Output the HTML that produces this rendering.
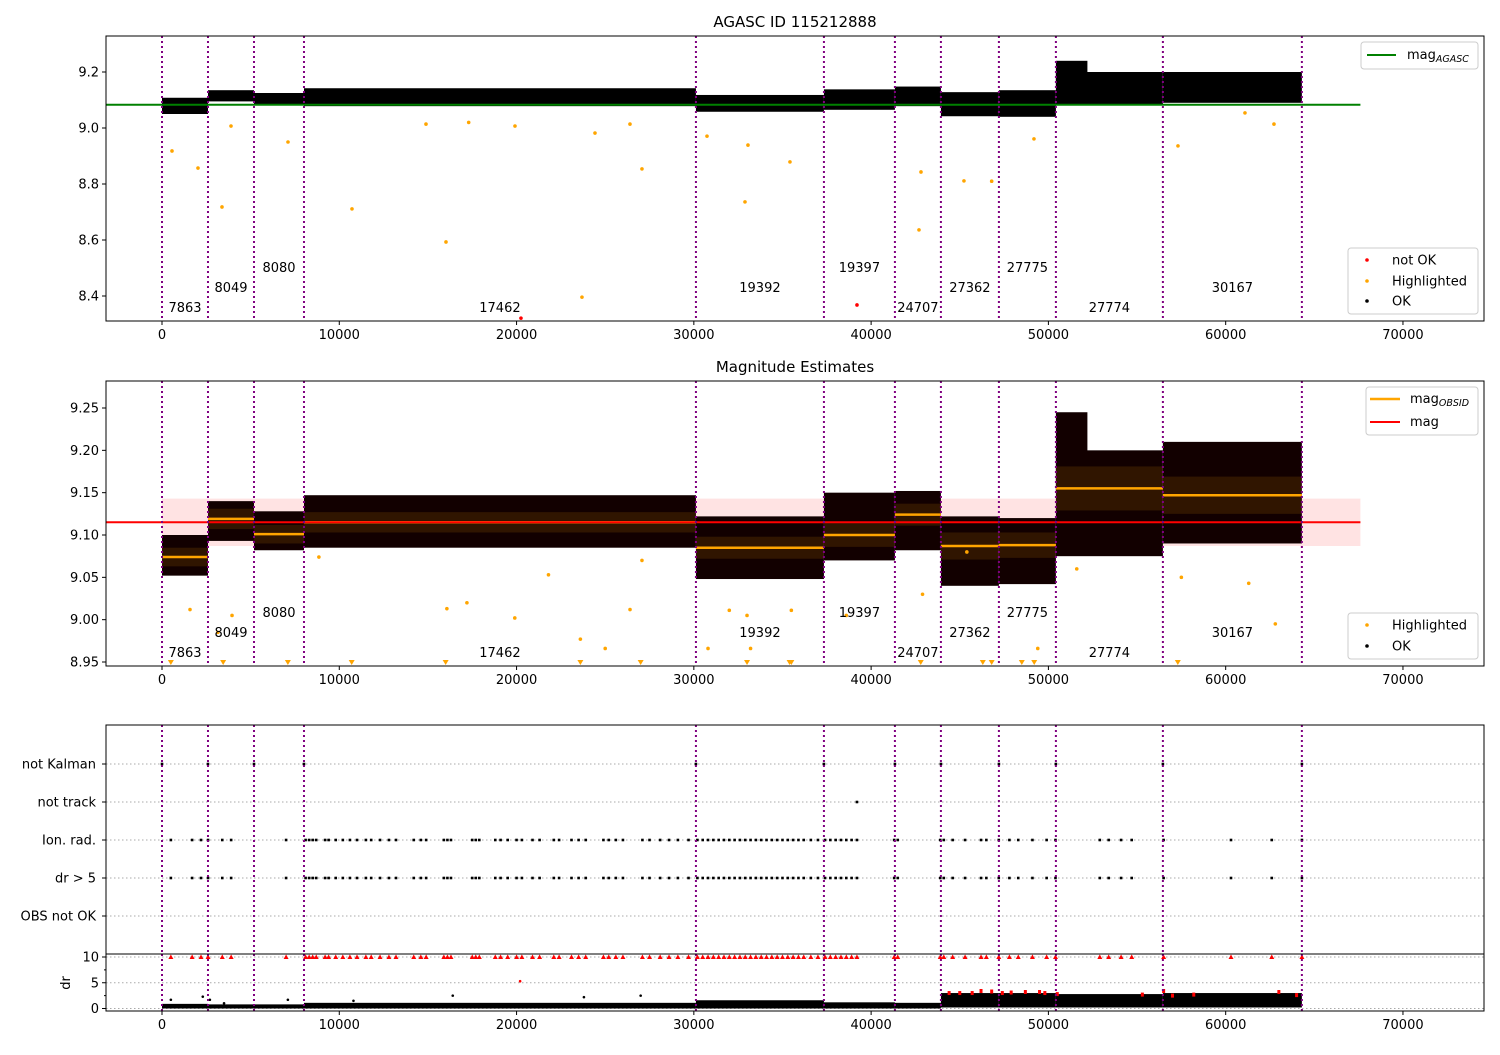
<!DOCTYPE html>
<html><head><meta charset="utf-8">
<style>
body{margin:0;background:#fff;}
svg{font-family:"DejaVu Sans","Liberation Sans",sans-serif;}
</style></head>
<body>
<svg id="chart" width="1500" height="1050" viewBox="0 0 1500 1050" xmlns="http://www.w3.org/2000/svg">
<rect width="1500" height="1050" fill="#fff"/>
<g id="layer"></g>
</svg>
<script>
// ---- data ----
const segStarts = [0,2594,5189,8009,30118,37338,41342,43937,47208,50423,56458];
const segEnds   = [2594,5189,8009,30118,37338,41342,43937,47208,50423,56458,64298];
const obsids = ["7863","8049","8080","17462","19392","19397","24707","27362","27775","27774","30167"];
const p1Low  = [9.050,9.095,9.082,9.078,9.058,9.065,9.078,9.042,9.040,9.085,9.090];
const p1High = [9.108,9.135,9.125,9.142,9.118,9.138,9.148,9.128,9.135,9.200,9.200];
const p2Low  = [9.052,9.093,9.082,9.085,9.048,9.070,9.082,9.040,9.042,9.075,9.090];
const p2High = [9.100,9.140,9.128,9.147,9.122,9.150,9.152,9.122,9.120,9.200,9.210];
const p2Mean = [9.074,9.119,9.101,9.115,9.085,9.100,9.124,9.087,9.088,9.155,9.147];
const p2Std  = [0.011,0.012,0.011,0.012,0.013,0.014,0.013,0.016,0.015,0.026,0.022];
const peakStart = 50423, peakEnd = 52200, peakLow = 9.15, peakHighP1 = 9.24, peakHighP2 = 9.245;
const magAgasc = 9.083;
const magMean = 9.115, magLo = 9.087, magHi = 9.143;
const p1HiT = [564,2030,3384,3892,7107,10717,16019,19911,23690,27074,24424,26398,32885,35422,33054,42813,42700,45237,49186,57309,62724,61088,30742,14891,17300,46800];
const p1HiV = [8.918,8.857,8.718,9.007,8.95,8.711,8.593,9.007,8.396,8.854,8.982,9.014,8.736,8.879,8.939,8.843,8.636,8.811,8.961,8.936,9.014,9.054,8.971,9.014,9.02,8.81];
const p1BadT = [39203,20249];
const p1BadV = [8.368,8.321];
const p2HiT = [1580,3150,3950,8850,16070,17200,19900,21800,23600,25000,26400,27074,30800,32000,33000,35500,33200,42900,45400,49400,57500,62800,61300,51600,38600];
const p2HiV = [9.012,8.985,9.005,9.074,9.013,9.020,9.002,9.053,8.977,8.966,9.012,9.070,8.966,9.011,9.005,9.011,8.966,9.030,9.080,8.966,9.050,8.995,9.043,9.060,9.005];
const p2TriT = [500,3450,7100,10700,16000,23600,27000,33000,35400,35500,42800,46800,57300,49200,48500,46300];
const rowLabels = ["not Kalman","not track","Ion. rad.","dr > 5","OBS not OK"];
const notKalmanT = [0,2594,5189,8009,30118,37338,41342,43937,47208,50423,56458,64298];
const notTrackT = [39200];
const ionT = [500,1700,2200,2600,3400,3900,7000,8100,8300,8500,8700,9200,9400,9800,10200,10600,11000,11500,11800,12300,12800,13200,14200,14600,14900,15900,16100,16300,17500,17700,17900,18800,19100,19500,20000,20300,20900,21300,22100,22400,23100,23500,23900,24900,25200,25600,26000,27100,27500,28100,28600,29100,29700,30200,30500,30800,31100,31400,31700,32000,32300,32600,32900,33200,33500,33800,34100,34400,34700,35000,35300,35600,35900,36200,36600,37000,37400,37700,38000,38300,38600,38900,39200,41300,41500,43900,44100,44600,45300,46200,46500,47200,47800,48300,49100,49900,50400,52900,53400,54100,54700,56500,60300,62600,64300];
const drBigT = ionT;
const drBandLow  = [0.0,0.0,0.0,0.0,0.0,0.0,0.0,0.2,0.2,0.2,0.2];
const drBandHigh = [0.9,0.8,0.8,1.1,1.6,1.2,1.1,3.0,3.0,2.8,3.0];
const drRedT = [44400,45000,45700,46200,46800,47400,47900,48700,49500,49800,50500,55300,56500,57000,58200,63000,64000];
const drRedV = [3.0,3.0,3.0,3.4,3.3,3.0,3.1,3.2,3.2,3.0,2.8,2.7,3.4,2.5,2.7,3.2,2.6];
const drBlackT = [500,2300,2700,3500,7100,10800,16400,20200,23800,27000];
const drBlackV = [1.7,2.3,1.7,1.0,1.7,1.5,2.5,5.3,2.2,2.5];
const xTicks = [0,10000,20000,30000,40000,50000,60000,70000];
const p1Ticks = [8.4,8.6,8.8,9.0,9.2];
const p2Ticks = [8.95,9.00,9.05,9.10,9.15,9.20,9.25];
const p4Ticks = [0,5,10];

// ---- scales ----
const X0=106, X1=1484;
const px = t => 162 + t*0.017728;
const y1 = v => 72 + (9.2 - v)*280;
const y2 = v => 408 + (9.25 - v)*846.7;
const y3 = i => 764 + i*38;
const y4 = v => 1008.5 - v*5.15;
const NS="http://www.w3.org/2000/svg";
const layer=document.getElementById('layer');
function mk(tag, attrs, parent){const e=document.createElementNS(NS,tag);for(const k in attrs)e.setAttribute(k,attrs[k]);(parent||layer).appendChild(e);return e;}
function txt(s,attrs,parent){const e=mk('text',attrs,parent);e.textContent=s;return e;}

function axesBox(name){
  const g=mk('g',{});
  
  
  return g;
}
function frame(g,top,bot){mk('rect',{x:X0,y:top,width:X1-X0,height:bot-top,fill:'none',stroke:'#000','stroke-width':1},g);}
function xAxis(g,bot,labels){
  xTicks.forEach(t=>{
    mk('line',{x1:px(t),x2:px(t),y1:bot,y2:bot+4,stroke:'#000'},g);
    if(labels){const l=txt(String(t),{x:px(t),y:bot+18,'font-size':13,'text-anchor':'middle'},g);
      
      }
  });
}
function vlines(g,top,bot){
  segStarts.concat([segEnds[segEnds.length-1]]).forEach(t=>{
    mk('line',{x1:px(t),x2:px(t),y1:top,y2:bot,stroke:'#800080','stroke-width':2,'stroke-dasharray':'2,3'},g);
  });
}
function segLabels(g,baseY){
  obsids.forEach((o,i)=>{
    const lvl=i%3;
    const l=txt(o,{x:(px(segStarts[i])+px(segEnds[i]))/2,y:baseY-lvl*20,'font-size':13,'text-anchor':'middle'},g);
    
    
  });
}
function yTicks(g,ticks,f,fmt){
  ticks.forEach(v=>{
    mk('line',{x1:X0-4,x2:X0,y1:f(v),y2:f(v),stroke:'#000'},g);
    const l=txt(fmt(v),{x:X0-7,y:f(v)+4.5,'font-size':13,'text-anchor':'end'},g);
    
    
  });
}

// ---- panel 1 ----
const g1=axesBox('agasc-panel');
const t1=txt('AGASC ID 115212888',{x:795,y:27,'font-size':15,'text-anchor':'middle'},g1);
 
const c1=mk('g',{},g1);
segStarts.forEach((s,i)=>{
  const r=mk('rect',{x:px(s),y:y1(p1High[i]),width:px(segEnds[i])-px(s),height:y1(p1Low[i])-y1(p1High[i]),fill:'#000'},c1);
   
});
mk('rect',{x:px(peakStart),y:y1(peakHighP1),width:px(peakEnd)-px(peakStart),height:y1(peakLow)-y1(peakHighP1),fill:'#000'},c1);
const ga=mk('line',{x1:X0,x2:px(67600),y1:y1(magAgasc),y2:y1(magAgasc),stroke:'#008000','stroke-width':2},c1);
 
p1HiT.forEach((t,i)=>{const c=mk('circle',{cx:px(t),cy:y1(p1HiV[i]),r:1.8,fill:'orange'},c1);
   });
p1BadT.forEach((t,i)=>{const c=mk('circle',{cx:px(t),cy:y1(p1BadV[i]),r:1.8,fill:'red'},c1);
   });
vlines(g1,36,321);
segLabels(g1,312);
frame(g1,36,321); xAxis(g1,321,true);
yTicks(g1,p1Ticks,y1,v=>v.toFixed(1));
(function(){
  const lg=mk('g',{},g1);  
  mk('rect',{x:1361,y:42,width:117,height:27,rx:3,fill:'#fff',stroke:'#ccc'},lg);
  mk('line',{x1:1367,x2:1396,y1:55,y2:55,stroke:'#008000','stroke-width':2},lg);
  const t=txt('mag',{x:1407,y:59,'font-size':13},lg);
  const s=document.createElementNS(NS,'tspan');s.setAttribute('font-size','9.5');s.setAttribute('font-style','italic');s.setAttribute('dy','3');s.textContent='AGASC';t.appendChild(s);
  const lg2=mk('g',{},g1);  
  mk('rect',{x:1348,y:248,width:130,height:66,rx:3,fill:'#fff',stroke:'#ccc'},lg2);
  [['not OK','red',260],['Highlighted','orange',281],['OK','#000',301]].forEach(a=>{
    mk('circle',{cx:1367,cy:a[2],r:1.8,fill:a[1]},lg2); txt(a[0],{x:1392,y:a[2]+4.5,'font-size':13},lg2);});
})();

// ---- panel 2 ----
const g2=axesBox('magnitude-panel');
const t2=txt('Magnitude Estimates',{x:795,y:372,'font-size':15,'text-anchor':'middle'},g2);
 
const c2=mk('g',{},g2);
const band=mk('rect',{x:px(0),y:y2(magHi),width:px(67600)-px(0),height:y2(magLo)-y2(magHi),fill:'rgba(255,0,0,0.11)'},c2);
 
segStarts.forEach((s,i)=>{
  const r=mk('rect',{x:px(s),y:y2(p2High[i]),width:px(segEnds[i])-px(s),height:y2(p2Low[i])-y2(p2High[i]),fill:'#120000'},c2);
   
});
mk('rect',{x:px(peakStart),y:y2(peakHighP2),width:px(peakEnd)-px(peakStart),height:y2(peakLow)-y2(peakHighP2),fill:'#120000'},c2);
segStarts.forEach((s,i)=>{
  mk('rect',{x:px(s),y:y2(p2Mean[i]+p2Std[i]),width:px(segEnds[i])-px(s),height:y2(p2Mean[i]-p2Std[i])-y2(p2Mean[i]+p2Std[i]),fill:'rgba(255,165,0,0.13)'},c2);
  const l=mk('line',{x1:px(s),x2:px(segEnds[i]),y1:y2(p2Mean[i]),y2:y2(p2Mean[i]),stroke:'orange','stroke-width':2.5},c2);
   
});
const ml=mk('line',{x1:X0,x2:px(67600),y1:y2(magMean),y2:y2(magMean),stroke:'red','stroke-width':2},c2);
 
p2HiT.forEach((t,i)=>{const c=mk('circle',{cx:px(t),cy:y2(p2HiV[i]),r:1.8,fill:'orange'},c2);
   });
p2TriT.forEach(t=>{const x=px(t),y=663;const p=mk('polygon',{points:`${x-3},${y-3} ${x+3},${y-3} ${x},${y+2}`,fill:'orange'},c2);
   });
vlines(g2,381,666);
segLabels(g2,657);
frame(g2,381,666); xAxis(g2,666,true);
yTicks(g2,p2Ticks,y2,v=>v.toFixed(2));
(function(){
  const lg=mk('g',{},g2);  
  mk('rect',{x:1366,y:387,width:112,height:48,rx:3,fill:'#fff',stroke:'#ccc'},lg);
  mk('line',{x1:1370,x2:1400,y1:399,y2:399,stroke:'orange','stroke-width':2.5},lg);
  const t=txt('mag',{x:1410,y:403,'font-size':13},lg);
  const s=document.createElementNS(NS,'tspan');s.setAttribute('font-size','9.5');s.setAttribute('font-style','italic');s.setAttribute('dy','3');s.textContent='OBSID';t.appendChild(s);
  mk('line',{x1:1370,x2:1400,y1:422,y2:422,stroke:'red','stroke-width':2},lg);
  txt('mag',{x:1410,y:426,'font-size':13},lg);
  const lg2=mk('g',{},g2);  
  mk('rect',{x:1348,y:613,width:130,height:46,rx:3,fill:'#fff',stroke:'#ccc'},lg2);
  [['Highlighted','orange',625],['OK','#000',646]].forEach(a=>{
    mk('circle',{cx:1367,cy:a[2],r:1.8,fill:a[1]},lg2); txt(a[0],{x:1392,y:a[2]+4.5,'font-size':13},lg2);});
})();

// ---- panel 3 ----
const g3=axesBox('flags-panel');
rowLabels.forEach((l,i)=>{
  mk('line',{x1:X0,x2:X1,y1:y3(i),y2:y3(i),stroke:'#aaa','stroke-width':1,'stroke-dasharray':'1.5,2.5'},g3);
  mk('line',{x1:X0-4,x2:X0,y1:y3(i),y2:y3(i),stroke:'#000'},g3);
  const t=txt(l,{x:X0-10,y:y3(i)+4.5,'font-size':13,'text-anchor':'end'},g3);
   
});
function rowPts(arr,row){arr.forEach(t=>{const r=mk('rect',{x:px(t)-1.3,y:y3(row)-1.3,width:2.6,height:2.6,fill:'#000'},g3);
   });}
rowPts(notKalmanT,0); rowPts(notTrackT,1); rowPts(ionT,2); rowPts(drBigT,3);
vlines(g3,725,954);
mk('rect',{x:X0,y:725,width:X1-X0,height:229,fill:'none',stroke:'#000'},g3);

// ---- panel 4 ----
const g4=axesBox('dr-panel');
[0,5,10].forEach(v=>mk('line',{x1:X0,x2:X1,y1:y4(v),y2:y4(v),stroke:'#aaa','stroke-dasharray':'1.5,2.5'},g4));
segStarts.forEach((s,i)=>{
  const r=mk('rect',{x:px(s),y:y4(drBandHigh[i]),width:px(segEnds[i])-px(s),height:y4(drBandLow[i])-y4(drBandHigh[i]),fill:'#000'},g4);
   
});
drRedT.forEach((t,i)=>{const c=mk('rect',{x:px(t)-1.5,y:y4(drRedV[i])-2,width:3,height:4,fill:'red'},g4);
   });
drBlackT.forEach((t,i)=>{const c=mk('circle',{cx:px(t),cy:y4(drBlackV[i]),r:1.3,fill:(drBlackV[i]>5?'red':'#000')},g4);
   });
drBigT.forEach(t=>{const x=px(t),y=y4(10);const p=mk('polygon',{points:`${x-2.5},${y+2} ${x+2.5},${y+2} ${x},${y-2.5}`,fill:'red'},g4);
   });
vlines(g4,954,1011);
mk('rect',{x:X0,y:954,width:X1-X0,height:57,fill:'none',stroke:'#000'},g4);
xAxis(g4,1011,true);
yTicks(g4,p4Ticks,y4,v=>String(v));
[2.5,7.5].forEach(v=>mk('line',{x1:X0-2,x2:X0,y1:y4(v),y2:y4(v),stroke:'#000'},g4));
const dl=txt('dr',{x:0,y:0,'font-size':13,'text-anchor':'middle',transform:'translate(70,983) rotate(-90)'},g4);
 
</script>
</body></html>
